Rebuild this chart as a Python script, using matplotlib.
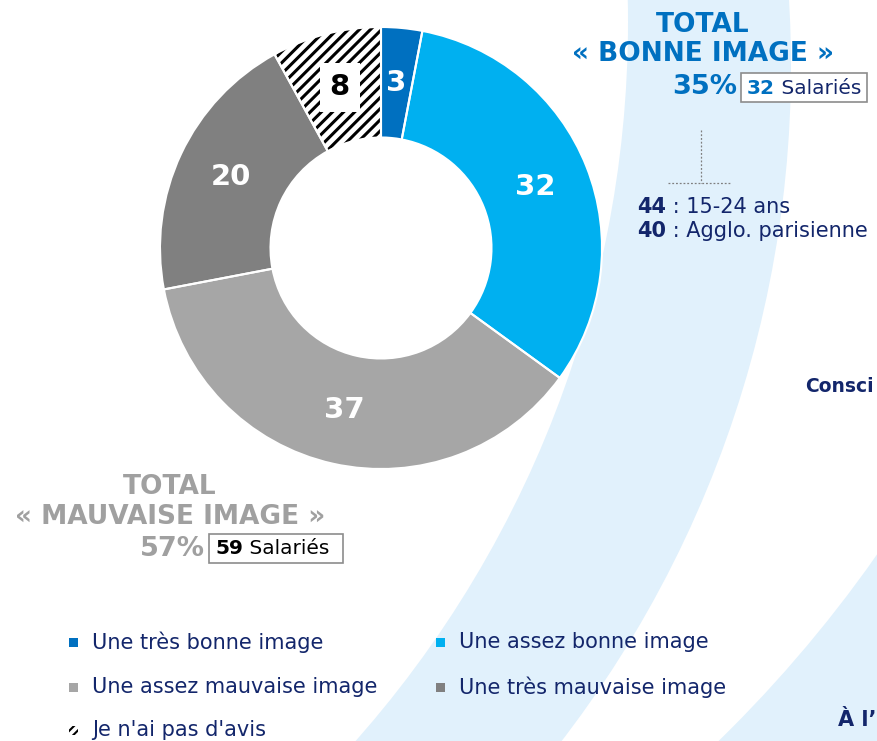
import matplotlib
matplotlib.use("Agg")
import matplotlib.pyplot as plt
from matplotlib.patches import Circle, Rectangle
import numpy as np

# ---------------- data ----------------
categories = ["Une très bonne image", "Une assez bonne image",
              "Une assez mauvaise image", "Une très mauvaise image",
              "Je n'ai pas d'avis"]
values = [3, 32, 37, 20, 8]
colors = ["#0070C0", "#00B0F0", "#A6A6A6", "#808080", "#FFFFFF"]
label_colors = ["white", "white", "white", "white", "black"]
hatches = [None, None, None, None, "///"]

good_total_pct = "35%"
good_total_n = "32"
bad_total_pct = "57%"
bad_total_n = "59"
sub_values = ["44", "40"]
sub_labels = [" : 15-24 ans", " : Agglo. parisienne"]

NAVY = "#13266B"
BLUE = "#0070C0"
GREY_T = "#A0A0A0"
BAND = "#E1F1FC"

W, H = 877, 741
fig = plt.figure(figsize=(W / 100, H / 100), dpi=100)
fig.patch.set_facecolor("white")

# ---------------- background (pixel coordinates) ----------------
bg = fig.add_axes([0, 0, 1, 1])
bg.set_xlim(0, W)
bg.set_ylim(H, 0)
bg.axis("off")

# second (lower right) band
bg.add_patch(Circle((-200, -200), 1580, facecolor=BAND, edgecolor="none", zorder=0))
bg.add_patch(Circle((-200, -200), 1315, facecolor="white", edgecolor="none", zorder=0))
# main band
bg.add_patch(Circle((-317, 66), 1108, facecolor=BAND, edgecolor="none", zorder=0))
bg.add_patch(Circle((-457, 22), 1085, facecolor="white", edgecolor="none", zorder=0))

# ---------------- donut ----------------
cx, cy, R = 381, 248, 221
ax = fig.add_axes([(cx - R) / W, 1 - (cy + R) / H, 2 * R / W, 2 * R / H])
ax.patch.set_visible(False)
plt.rcParams["hatch.linewidth"] = 2.2
wedges, _ = ax.pie(values, colors=colors, startangle=90, counterclock=False,
                   radius=1.0, wedgeprops=dict(width=0.5, linewidth=0))
for w, h in zip(wedges, hatches):
    if h:
        w.set_hatch(h)
        w.set_edgecolor("black")
        w.set_linewidth(0)
# white separators
ax.pie(values, colors=["none"] * len(values), startangle=90, counterclock=False,
       radius=1.0, wedgeprops=dict(width=0.5, linewidth=1.5, edgecolor="white",
                                   facecolor="none"))
for w, v, lc, h in zip(wedges, values, label_colors, hatches):
    ang = np.deg2rad((w.theta1 + w.theta2) / 2)
    x, y = 0.75 * np.cos(ang), 0.75 * np.sin(ang)
    kw = {}
    if h:
        kw["bbox"] = dict(facecolor="white", edgecolor="none", boxstyle="square,pad=0.35")
    ax.text(x, y, str(v), ha="center", va="center", color=lc, fontsize=21,
            fontweight="bold", family="DejaVu Sans", **kw)
ax.set_xlim(-1, 1)
ax.set_ylim(-1, 1)
ax.axis("off")

# ---------------- annotations ----------------
bold = dict(fontweight="bold", family="DejaVu Sans")
reg = dict(family="DejaVu Sans")


def after(t, s, **kw):
    """Place text s directly after text artist t, on the same baseline."""
    return bg.annotate(s, xy=(1, 0), xycoords=t, ha="left", va="bottom", **kw)


bg.text(703, 25, "TOTAL", ha="center", va="center", color=BLUE, fontsize=19, **bold)
bg.text(703, 54, "« BONNE IMAGE »", ha="center", va="center", color=BLUE, fontsize=19, **bold)
bg.text(737, 87, good_total_pct, ha="right", va="center", color=BLUE, fontsize=19.5, **bold)
bg.add_patch(Rectangle((741, 73), 126, 29, facecolor="white", edgecolor="#8C8C8C", lw=1.2, zorder=2))
t = bg.text(747, 88, good_total_n, ha="left", va="center", color=BLUE, fontsize=14.5, zorder=3, **bold)
after(t, " Salariés", color=NAVY, fontsize=14.5, zorder=3, **reg)

# dotted connector
bg.plot([701, 701], [130, 183], color="#7F7F7F", lw=0.9, ls=(0, (1.5, 1.5)))
bg.plot([668, 731], [183, 183], color="#7F7F7F", lw=0.9, ls=(0, (1.5, 1.5)))

for i, (sv, sl) in enumerate(zip(sub_values, sub_labels)):
    yy = 207 + 24 * i
    t = bg.text(637, yy, sv, ha="left", va="center", color=NAVY, fontsize=15, **bold)
    after(t, sl, color=NAVY, fontsize=15, **reg)

bg.text(805, 386, "Consci", ha="left", va="center", color=NAVY, fontsize=13.5, **bold)
bg.text(838, 720, "À l’", ha="left", va="center", color=NAVY, fontsize=15, **bold)

bg.text(170, 487, "TOTAL", ha="center", va="center", color=GREY_T, fontsize=19, **bold)
bg.text(170, 517, "« MAUVAISE IMAGE »", ha="center", va="center", color=GREY_T, fontsize=19, **bold)
bg.text(205, 549, bad_total_pct, ha="right", va="center", color=GREY_T, fontsize=19.5, **bold)
bg.add_patch(Rectangle((209, 534), 134, 29, facecolor="white", edgecolor="#8C8C8C", lw=1.2, zorder=2))
t = bg.text(215, 549, bad_total_n, ha="left", va="center", color="black", fontsize=14.5, zorder=3, **bold)
after(t, " Salariés", color="black", fontsize=14.5, zorder=3, **reg)

# ---------------- legend ----------------
plt.rcParams["hatch.linewidth"] = 1.5
col_x = [69, 436]
row_y = [642, 687, 730]
for i, (cat, col, h) in enumerate(zip(categories, colors, hatches)):
    r, c = divmod(i, 2)
    x0, y0 = col_x[c], row_y[r]
    sq = Rectangle((x0, y0 - 4.5), 9, 9, facecolor=col, edgecolor="black" if h else "none",
                   lw=0, zorder=3)
    if h:
        sq.set_hatch("////")
    bg.add_patch(sq)
    bg.text(x0 + 23, y0, cat, ha="left", va="center", color=NAVY, fontsize=15, **reg)

fig.savefig("out.png", dpi=100, facecolor="white")
